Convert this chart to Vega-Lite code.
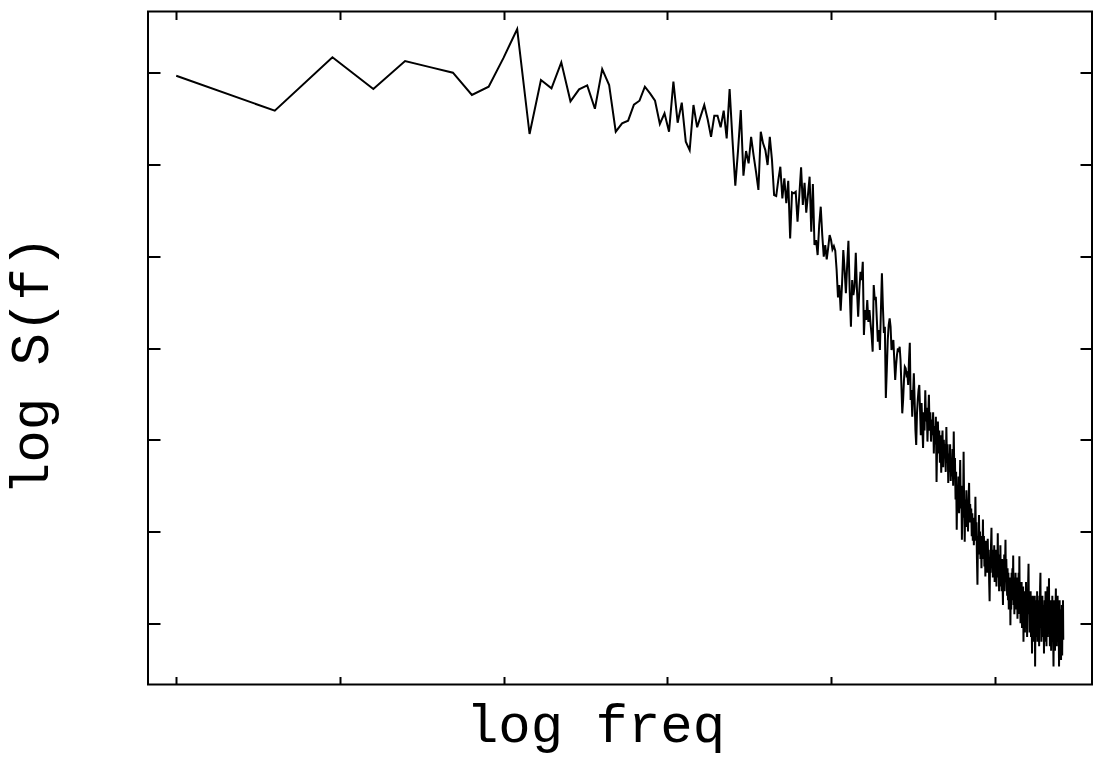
{
"$schema": "https://vega.github.io/schema/vega-lite/v6.json",
"width": 944,
"height": 673,
"autosize": {"type": "none"},
"padding": {"left": 148, "top": 11.5, "right": 2, "bottom": 73.5},
"background": "white",
"config": {
"view": {"stroke": "black", "strokeWidth": 2},
"axis": {"grid": false, "labels": false, "domain": false, "tickColor": "black", "tickWidth": 2, "titleFont": "Liberation Mono", "titleFontSize": 54, "titleFontWeight": "normal", "titleColor": "black"}
},
"data": {"values": [
{"f":1,"s":5.967},{"f":2,"s":5.586},{"f":3,"s":6.168},{"f":4,"s":5.822},{"f":5,"s":6.127},{"f":6,"s":6.058},{"f":7,"s":6.0},{"f":8,"s":5.757},{"f":9,"s":5.847},{"f":10,"s":6.164},
{"f":11,"s":6.476},{"f":12,"s":5.332},{"f":13,"s":5.92},{"f":14,"s":5.83},{"f":15,"s":6.113},{"f":16,"s":5.688},{"f":17,"s":5.819},{"f":18,"s":5.862},{"f":19,"s":5.607},{"f":20,"s":6.04},
{"f":21,"s":5.866},{"f":22,"s":5.357},{"f":23,"s":5.448},{"f":24,"s":5.477},{"f":25,"s":5.651},{"f":26,"s":5.695},{"f":27,"s":5.847},{"f":28,"s":5.775},{"f":29,"s":5.695},{"f":30,"s":5.441},
{"f":31,"s":5.557},{"f":32,"s":5.357},{"f":33,"s":5.902},{"f":34,"s":5.455},{"f":35,"s":5.673},{"f":36,"s":5.248},{"f":37,"s":5.157},{"f":38,"s":5.648},{"f":39,"s":5.405},{"f":40,"s":5.53},
{"f":41,"s":5.648},{"f":42,"s":5.49},{"f":43,"s":5.302},{"f":44,"s":5.531},{"f":45,"s":5.531},{"f":46,"s":5.405},{"f":47,"s":5.586},{"f":48,"s":5.285},{"f":49,"s":5.822},{"f":50,"s":5.266},
{"f":51,"s":4.768},{"f":52,"s":5.157},{"f":53,"s":5.593},{"f":54,"s":4.877},{"f":55,"s":5.147},{"f":56,"s":5.012},{"f":57,"s":5.302},{"f":58,"s":5.1},{"f":59,"s":4.92},{"f":60,"s":4.722},
{"f":61,"s":5.357},{"f":62,"s":5.23},{"f":63,"s":5.157},{"f":64,"s":4.994},{"f":65,"s":5.302},{"f":66,"s":5.05},{"f":67,"s":4.667},{"f":68,"s":4.656},{"f":69,"s":4.83},{"f":70,"s":4.975},
{"f":71,"s":4.631},{"f":72,"s":4.849},{"f":73,"s":4.577},{"f":74,"s":4.823},{"f":75,"s":4.195},{"f":76,"s":4.697},{"f":77,"s":4.686},{"f":78,"s":4.703},{"f":79,"s":4.376},{"f":80,"s":4.667},
{"f":81,"s":4.969},{"f":82,"s":4.558},{"f":83,"s":4.801},{"f":84,"s":4.474},{"f":85,"s":4.667},{"f":86,"s":4.867},{"f":87,"s":4.267},{"f":88,"s":4.787},{"f":89,"s":4.122},{"f":90,"s":4.177},
{"f":91,"s":4.013},{"f":92,"s":4.34},{"f":93,"s":4.54},{"f":94,"s":4.231},{"f":95,"s":3.995},{"f":96,"s":4.122},{"f":97,"s":3.966},{"f":98,"s":4.09},{"f":99,"s":4.231},{"f":100,"s":4.177},
{"f":101,"s":4.075},{"f":102,"s":4.11},{"f":103,"s":4.06},{"f":104,"s":3.85},{"f":105,"s":3.552},{"f":106,"s":3.686},{"f":107,"s":3.406},{"f":108,"s":3.686},{"f":109,"s":4.068},{"f":110,"s":3.85},
{"f":111,"s":3.596},{"f":112,"s":3.904},{"f":113,"s":4.169},{"f":114,"s":3.632},{"f":115,"s":3.232},{"f":116,"s":3.741},{"f":117,"s":3.577},{"f":118,"s":3.668},{"f":119,"s":4.038},{"f":120,"s":3.632},
{"f":121,"s":3.341},{"f":122,"s":3.632},{"f":123,"s":3.831},{"f":124,"s":3.741},{"f":125,"s":3.94},{"f":126,"s":3.142},{"f":127,"s":3.414},{"f":128,"s":3.305},{"f":129,"s":3.523},{"f":130,"s":3.283},
{"f":131,"s":3.414},{"f":132,"s":3.269},{"f":133,"s":3.142},{"f":134,"s":2.96},{"f":135,"s":3.686},{"f":136,"s":3.523},{"f":137,"s":3.559},{"f":138,"s":3.305},{"f":139,"s":3.069},{"f":140,"s":3.196},
{"f":141,"s":2.978},{"f":142,"s":3.414},{"f":143,"s":3.814},{"f":144,"s":3.45},{"f":145,"s":3.163},{"f":146,"s":3.232},{"f":147,"s":2.455},{"f":148,"s":2.76},{"f":149,"s":3.087},{"f":150,"s":3.251},
{"f":151,"s":3.324},{"f":152,"s":3.232},{"f":153,"s":2.978},{"f":154,"s":3.032},{"f":155,"s":3.087},{"f":156,"s":2.869},{"f":157,"s":2.651},{"f":158,"s":2.814},{"f":159,"s":2.924},{"f":160,"s":2.997},
{"f":161,"s":2.956},{"f":162,"s":3.014},{"f":163,"s":2.869},{"f":164,"s":2.597},{"f":165,"s":2.288},{"f":166,"s":2.433},{"f":167,"s":2.651},{"f":168,"s":2.796},{"f":169,"s":2.779},{"f":170,"s":2.706},
{"f":171,"s":2.724},{"f":172,"s":2.597},{"f":173,"s":2.869},{"f":174,"s":3.058},{"f":175,"s":2.433},{"f":176,"s":2.542},{"f":177,"s":2.251},{"f":178,"s":2.488},{"f":179,"s":2.724},{"f":180,"s":2.433},
{"f":181,"s":2.106},{"f":182,"s":1.943},{"f":183,"s":2.288},{"f":184,"s":2.433},{"f":185,"s":2.542},{"f":186,"s":2.597},{"f":187,"s":2.324},{"f":188,"s":2.05},{"f":189,"s":2.4},{"f":190,"s":2.15},
{"f":191,"s":1.91},{"f":192,"s":2.3},{"f":193,"s":2.1},{"f":194,"s":2.54},{"f":195,"s":2.2},{"f":196,"s":2.35},{"f":197,"s":1.98},{"f":198,"s":2.25},{"f":199,"s":2.49},{"f":200,"s":2.1},
{"f":201,"s":2.3},{"f":202,"s":1.98},{"f":203,"s":2.22},{"f":204,"s":2.05},{"f":205,"s":2.3},{"f":206,"s":1.85},{"f":207,"s":2.15},{"f":208,"s":1.95},{"f":209,"s":2.25},{"f":210,"s":1.54},
{"f":211,"s":2.0},{"f":212,"s":2.2},{"f":213,"s":1.85},{"f":214,"s":2.1},{"f":215,"s":1.75},{"f":216,"s":2.05},{"f":217,"s":1.64},{"f":218,"s":1.95},{"f":219,"s":2.1},{"f":220,"s":1.7},
{"f":221,"s":2.0},{"f":222,"s":1.8},{"f":223,"s":1.95},{"f":224,"s":1.65},{"f":225,"s":2.14},{"f":226,"s":1.75},{"f":227,"s":1.95},{"f":228,"s":1.53},{"f":229,"s":1.85},{"f":230,"s":1.65},
{"f":231,"s":1.95},{"f":232,"s":1.55},{"f":233,"s":1.8},{"f":234,"s":1.6},{"f":235,"s":1.9},{"f":236,"s":1.5},{"f":237,"s":2.09},{"f":238,"s":1.6},{"f":239,"s":1.8},{"f":240,"s":1.35},
{"f":241,"s":1.65},{"f":242,"s":1.02},{"f":243,"s":1.5},{"f":244,"s":1.3},{"f":245,"s":1.6},{"f":246,"s":1.2},{"f":247,"s":1.45},{"f":248,"s":1.78},{"f":249,"s":1.25},{"f":250,"s":1.5},
{"f":251,"s":0.91},{"f":252,"s":1.4},{"f":253,"s":1.15},{"f":254,"s":1.87},{"f":255,"s":1.3},{"f":256,"s":0.89},{"f":257,"s":1.35},{"f":258,"s":1.1},{"f":259,"s":1.45},{"f":260,"s":1.05},
{"f":261,"s":1.3},{"f":262,"s":1.0},{"f":263,"s":1.35},{"f":264,"s":1.53},{"f":265,"s":1.1},{"f":266,"s":1.3},{"f":267,"s":1.13},{"f":268,"s":1.25},{"f":269,"s":0.95},{"f":270,"s":1.2},
{"f":271,"s":0.9},{"f":272,"s":1.15},{"f":273,"s":0.85},{"f":274,"s":1.1},{"f":275,"s":0.95},{"f":276,"s":1.38},{"f":277,"s":0.9},{"f":278,"s":1.1},{"f":279,"s":0.7},{"f":280,"s":0.42},
{"f":281,"s":0.95},{"f":282,"s":0.75},{"f":283,"s":1.18},{"f":284,"s":0.8},{"f":285,"s":1.0},{"f":286,"s":0.7},{"f":287,"s":0.95},{"f":288,"s":0.6},{"f":289,"s":0.9},{"f":290,"s":0.75},
{"f":291,"s":1.13},{"f":292,"s":0.7},{"f":293,"s":0.95},{"f":294,"s":0.62},{"f":295,"s":0.85},{"f":296,"s":0.51},{"f":297,"s":0.9},{"f":298,"s":0.6},{"f":299,"s":0.85},{"f":300,"s":0.55},
{"f":301,"s":0.92},{"f":302,"s":0.65},{"f":303,"s":0.8},{"f":304,"s":0.45},{"f":305,"s":0.24},{"f":306,"s":0.7},{"f":307,"s":0.55},{"f":308,"s":0.85},{"f":309,"s":1.04},{"f":310,"s":0.6},
{"f":311,"s":0.8},{"f":312,"s":0.5},{"f":313,"s":0.75},{"f":314,"s":0.53},{"f":315,"s":0.85},{"f":316,"s":0.45},{"f":317,"s":0.7},{"f":318,"s":0.55},{"f":319,"s":0.8},{"f":320,"s":0.4},
{"f":321,"s":0.75},{"f":322,"s":0.55},{"f":323,"s":0.98},{"f":324,"s":0.5},{"f":325,"s":0.7},{"f":326,"s":0.35},{"f":327,"s":0.75},{"f":328,"s":0.45},{"f":329,"s":0.85},{"f":330,"s":0.4},
{"f":331,"s":0.65},{"f":332,"s":0.35},{"f":333,"s":0.7},{"f":334,"s":0.45},{"f":335,"s":0.2},{"f":336,"s":0.6},{"f":337,"s":0.4},{"f":338,"s":0.75},{"f":339,"s":0.35},{"f":340,"s":0.65},
{"f":341,"s":0.91},{"f":342,"s":0.45},{"f":343,"s":0.7},{"f":344,"s":0.49},{"f":345,"s":0.3},{"f":346,"s":0.6},{"f":347,"s":0.25},{"f":348,"s":0.55},{"f":349,"s":0.15},{"f":350,"s":0.45},
{"f":351,"s":0.2},{"f":352,"s":0.5},{"f":353,"s":-0.02},{"f":354,"s":0.4},{"f":355,"s":0.15},{"f":356,"s":0.55},{"f":357,"s":0.25},{"f":358,"s":0.6},{"f":359,"s":0.3},{"f":360,"s":0.74},
{"f":361,"s":0.2},{"f":362,"s":0.5},{"f":363,"s":0.1},{"f":364,"s":0.45},{"f":365,"s":0.25},{"f":366,"s":0.55},{"f":367,"s":0.15},{"f":368,"s":0.4},{"f":369,"s":0.18},{"f":370,"s":0.5},
{"f":371,"s":0.05},{"f":372,"s":0.4},{"f":373,"s":0.2},{"f":374,"s":0.55},{"f":375,"s":0.1},{"f":376,"s":0.73},{"f":377,"s":0.2},{"f":378,"s":0.45},{"f":379,"s":0.0},{"f":380,"s":0.35},
{"f":381,"s":0.1},{"f":382,"s":0.45},{"f":383,"s":-0.05},{"f":384,"s":0.3},{"f":385,"s":0.05},{"f":386,"s":0.4},{"f":387,"s":-0.2},{"f":388,"s":0.25},{"f":389,"s":0.0},{"f":390,"s":0.35},
{"f":391,"s":-0.1},{"f":392,"s":0.3},{"f":393,"s":0.05},{"f":394,"s":0.45},{"f":395,"s":-0.05},{"f":396,"s":0.25},{"f":397,"s":-0.15},{"f":398,"s":0.35},{"f":399,"s":0.1},{"f":400,"s":0.45},
{"f":401,"s":0.65},{"f":402,"s":0.15},{"f":403,"s":0.3},{"f":404,"s":-0.1},{"f":405,"s":0.2},{"f":406,"s":-0.05},{"f":407,"s":0.35},{"f":408,"s":-0.15},{"f":409,"s":0.25},{"f":410,"s":0.0},
{"f":411,"s":-0.33},{"f":412,"s":0.1},{"f":413,"s":0.3},{"f":414,"s":-0.1},{"f":415,"s":0.2},{"f":416,"s":-0.2},{"f":417,"s":0.15},{"f":418,"s":0.0},{"f":419,"s":0.3},{"f":420,"s":-0.47},
{"f":421,"s":0.05},{"f":422,"s":0.25},{"f":423,"s":-0.15},{"f":424,"s":0.15},{"f":425,"s":-0.05},{"f":426,"s":0.35},{"f":427,"s":-0.2},{"f":428,"s":0.1},{"f":429,"s":0.25},{"f":430,"s":-0.1},
{"f":431,"s":0.2},{"f":432,"s":-0.25},{"f":433,"s":0.3},{"f":434,"s":0.0},{"f":435,"s":0.4},{"f":436,"s":0.55},{"f":437,"s":-0.05},{"f":438,"s":0.25},{"f":439,"s":-0.2},{"f":440,"s":0.1},
{"f":441,"s":-0.1},{"f":442,"s":0.3},{"f":443,"s":-0.15},{"f":444,"s":0.2},{"f":445,"s":-0.05},{"f":446,"s":0.15},{"f":447,"s":-0.33},{"f":448,"s":0.05},{"f":449,"s":0.25},{"f":450,"s":-0.2},
{"f":451,"s":0.1},{"f":452,"s":0.35},{"f":453,"s":-0.1},{"f":454,"s":0.15},{"f":455,"s":-0.25},{"f":456,"s":0.2},{"f":457,"s":0.0},{"f":458,"s":0.4},{"f":459,"s":-0.15},{"f":460,"s":0.1},
{"f":461,"s":0.3},{"f":462,"s":-0.05},{"f":463,"s":0.49},{"f":464,"s":0.0},{"f":465,"s":0.2},{"f":466,"s":-0.25},{"f":467,"s":0.15},{"f":468,"s":-0.1},{"f":469,"s":0.25},{"f":470,"s":-0.3},
{"f":471,"s":0.05},{"f":472,"s":0.2},{"f":473,"s":-0.15},{"f":474,"s":0.3},{"f":475,"s":-0.05},{"f":476,"s":0.1},{"f":477,"s":-0.2},{"f":478,"s":-0.47},{"f":479,"s":0.0},{"f":480,"s":0.25},
{"f":481,"s":-0.15},{"f":482,"s":0.15},{"f":483,"s":-0.3},{"f":484,"s":0.05},{"f":485,"s":0.2},{"f":486,"s":0.38},{"f":487,"s":-0.1},{"f":488,"s":0.15},{"f":489,"s":-0.25},{"f":490,"s":0.1},
{"f":491,"s":-0.05},{"f":492,"s":0.3},{"f":493,"s":-0.2},{"f":494,"s":0.05},{"f":495,"s":0.2},{"f":496,"s":-0.15},{"f":497,"s":-0.47},{"f":498,"s":0.0},{"f":499,"s":0.25},{"f":500,"s":-0.3},
{"f":501,"s":0.1},{"f":502,"s":-0.1},{"f":503,"s":0.02},{"f":504,"s":-0.4},{"f":505,"s":0.15},{"f":506,"s":-0.2},{"f":507,"s":0.2},{"f":508,"s":-0.35},{"f":509,"s":0.05},{"f":510,"s":-0.1},
{"f":511,"s":0.25},{"f":512,"s":-0.18}
]},
"layer": [
{
"mark": {"type": "line", "color": "black", "strokeWidth": 2, "clip": true},
"encoding": {
"x": {"field": "f", "type": "quantitative", "scale": {"type": "log", "domain": [0.82, 626.6], "nice": false, "zero": false},
"axis": {"orient": "bottom", "values": [1, 3.1623, 10, 31.623, 100, 316.23], "tickSize": -8, "title": "log freq", "titleX": 447, "titleY": 56.5, "titleAlign": "center", "titleBaseline": "alphabetic"}},
"y": {"field": "s", "type": "quantitative", "scale": {"domain": [-0.667, 6.667], "nice": false, "zero": false},
"axis": {"orient": "left", "values": [0, 1, 2, 3, 4, 5, 6], "tickSize": -12, "title": "log S(f)", "titleX": -101, "titleY": 353.5, "titleAngle": 270, "titleAlign": "center", "titleBaseline": "alphabetic"}}
}
},
{
"mark": {"type": "line", "opacity": 0},
"encoding": {
"x": {"field": "f", "type": "quantitative", "axis": {"orient": "top", "values": [1, 3.1623, 10, 31.623, 100, 316.23], "tickSize": -8, "title": null}},
"y": {"field": "s", "type": "quantitative", "axis": {"orient": "right", "values": [0, 1, 2, 3, 4, 5, 6], "tickSize": -12, "title": null}}
}
}
],
"resolve": {"axis": {"x": "independent", "y": "independent"}}
}
